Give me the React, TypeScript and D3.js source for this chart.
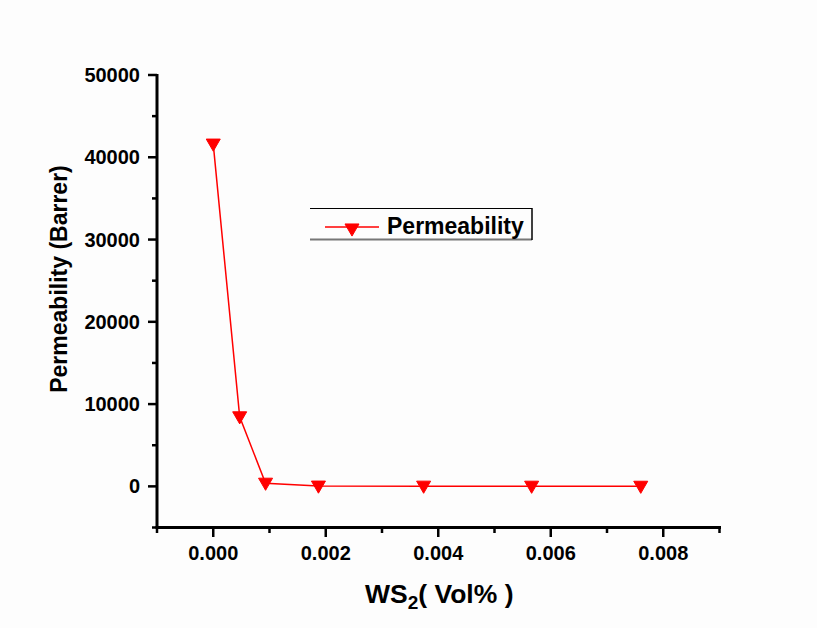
import React from "react";
import * as d3 from "d3";

const xValues = [0, 0.00047, 0.00093, 0.00187, 0.00374, 0.00566, 0.0076];
const permeability = [41600, 8450, 380, 30, 20, 15, 10];
const xTicks = [0, 0.002, 0.004, 0.006, 0.008];
const xMinor = [-0.001, 0.001, 0.003, 0.005, 0.007, 0.009];
const yTicks = [0, 10000, 20000, 30000, 40000, 50000];
const yMinor = [-5000, 5000, 15000, 25000, 35000, 45000];
const seriesName = "Permeability";

const FONT = "Arial, 'Liberation Sans', sans-serif";

export default function App() {
  const x = d3.scaleLinear().domain([-0.001, 0.009]).range([157, 719.5]);
  const y = d3.scaleLinear().domain([-5000, 50000]).range([527.5, 75]);
  const line = d3
    .line<number>()
    .x((_, i) => x(xValues[i]))
    .y((d) => y(d));
  const tri = d3.symbol().type(d3.symbolTriangle).size(85)();

  return (
    <svg
      width={817}
      height={628}
      style={{ position: "absolute", left: 0, top: 0, background: "#fff" }}
      fontFamily={FONT}
    >
      <rect width={817} height={628} fill="#fdfdfd" />
      {/* data line */}
      <path d={line(permeability) || ""} fill="none" stroke="#ff0000" strokeWidth={1.5} />
      {permeability.map((v, i) => (
        <path
          key={i}
          d={tri || ""}
          transform={`translate(${x(xValues[i])},${y(v) - 1}) rotate(180)`}
          fill="#ff0000"
          stroke="#ff0000"
          strokeWidth={1}
        />
      ))}
      {/* axes */}
      <line x1={157} x2={157} y1={y(50000) - 1} y2={y(-5000)} stroke="#000" strokeWidth={3} />
      <line x1={155.5} x2={x(0.009) + 1.5} y1={527.5} y2={527.5} stroke="#000" strokeWidth={3} />
      {yTicks.map((t) => (
        <g key={"y" + t}>
          <line x1={148} x2={157} y1={y(t)} y2={y(t)} stroke="#000" strokeWidth={2.5} />
          <text
            x={140}
            y={y(t) + 7}
            textAnchor="end"
            fontSize={20}
            fontWeight="bold"
          >
            {t}
          </text>
        </g>
      ))}
      {yMinor.map((t) => (
        <line key={"ym" + t} x1={152} x2={157} y1={y(t)} y2={y(t)} stroke="#000" strokeWidth={2.5} />
      ))}
      {xTicks.map((t) => (
        <g key={"x" + t}>
          <line x1={x(t)} x2={x(t)} y1={527} y2={537} stroke="#000" strokeWidth={2.5} />
          <text x={x(t)} y={560} textAnchor="middle" fontSize={20} fontWeight="bold">
            {d3.format(".3f")(t)}
          </text>
        </g>
      ))}
      {xMinor.map((t) => (
        <line key={"xm" + t} x1={x(t)} x2={x(t)} y1={527} y2={533} stroke="#000" strokeWidth={2.5} />
      ))}
      {/* axis titles */}
      <text
        transform="translate(67,279) rotate(-90)"
        textAnchor="middle"
        fontSize={23}
        fontWeight="bold"
      >
        Permeability (Barrer)
      </text>
      <text x={365} y={603} fontSize={26.5} fontWeight="bold">
        WS
        <tspan fontSize={19} dy={6}>2</tspan>
        <tspan dy={-6}>( Vol% )</tspan>
      </text>
      {/* legend */}
      <line x1={310} x2={532} y1={208.5} y2={208.5} stroke="#000" strokeWidth={1} />
      <line x1={310} x2={532} y1={239.5} y2={239.5} stroke="#777" strokeWidth={2} />
      <line x1={532} x2={532} y1={208} y2={240} stroke="#000" strokeWidth={1.5} />
      <line x1={325} x2={379} y1={227} y2={227} stroke="#ff0000" strokeWidth={1.5} />
      <path d={tri || ""} transform="translate(352,228) rotate(180)" fill="#ff0000" stroke="#ff0000" />
      <text x={387} y={234} fontSize={23} fontWeight="bold">
        {seriesName}
      </text>
    </svg>
  );
}
